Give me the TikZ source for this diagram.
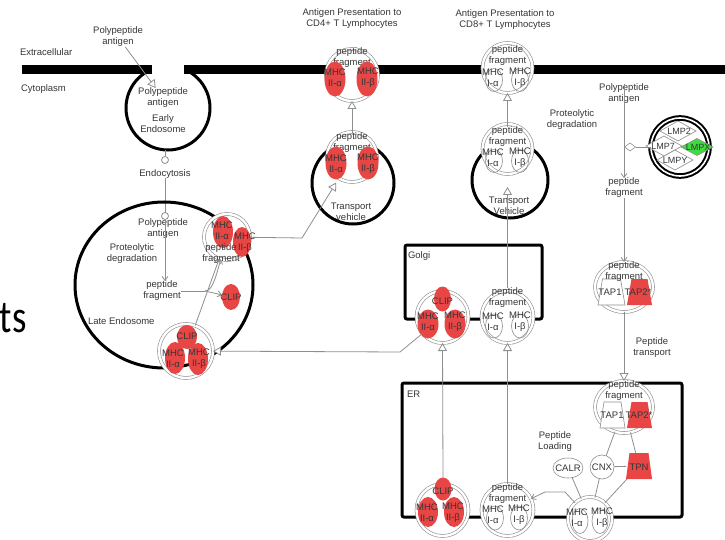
\documentclass[tikz,border=0pt]{standalone}
\usepackage{fontspec}
\setmainfont{Liberation Sans}
\newfontfamily\slidefont{Carlito}
\usetikzlibrary{shapes.geometric,arrows.meta}
\definecolor{mhcred}{HTML}{E84545}
\definecolor{lmpgreen}{HTML}{3EDC3E}
\definecolor{edgegray}{HTML}{8E8E8E}
\definecolor{txtgray}{HTML}{363636}
\tikzset{
  every node/.style={font=\fontsize{9.5}{11}\selectfont, text=txtgray, inner sep=0pt, outer sep=0pt, align=center},
  conn/.style={draw=edgegray, line width=0.8pt},
  hollow/.style={-{Triangle[length=8pt,width=9pt,fill=white]}},
  barb/.style={-{Straight Barb[length=4pt,width=6pt]}},
  membrane ring/.style={draw=black, line width=3pt},
  cplx/.style={circle, draw=edgegray, line width=0.6pt, double=white, double distance=2.4pt, fill=white},
  redel/.style={ellipse, fill=mhcred},
  subel/.style={ellipse, draw=edgegray, line width=0.6pt},
  compbox/.style={rectangle, draw=black, line width=3pt, rounded corners=2pt},
  tapwhite/.style={draw=edgegray, line width=0.6pt, fill=white},
  tapred/.style={fill=mhcred},
  lmpdia/.style={diamond, draw=edgegray, line width=0.6pt, fill=white, minimum width=36pt, minimum height=20pt},
  lmpfont/.style={font=\fontsize{9}{10}\selectfont},
  endpoint/.style={circle, draw=edgegray, line width=0.8pt, fill=white, minimum size=7pt},
  smallbox/.style={ellipse, draw=edgegray, line width=0.6pt, fill=white}
}
% trapezoid: style, centre x, centre y, half bottom width, half top width, half height
\newcommand{\drawtrap}[6]{%
  \path[#1] ({#2-#4},{#3+#6}) -- ({#2+#4},{#3+#6}) -- ({#2+#5},{#3-#6}) -- ({#2-#5},{#3-#6}) -- cycle;}
\begin{document}
\begin{tikzpicture}[x=1pt,y=-1pt]
\useasboundingbox (0,0) rectangle (725,540);
\fill[white] (0,0) rectangle (725,540);

% fragment of slide text on the left
\node[font=\slidefont\fontsize{46}{46}\selectfont, text=black, anchor=base west] (slidetxt) at (0,332) {\scalebox{0.8}[1]{ts}};

% compartment labels
\node[anchor=west] (extra) at (20,52) {Extracellular};
\node[anchor=west] (cyto) at (21,89) {Cytoplasm};

% ---------------- early endosome and plasma membrane ----------------
\node[circle, membrane ring, minimum size=84pt] (early) at (168,108) {};
\fill[white] (152,55) rectangle (184,74.5);
\fill[black] (22,65) rectangle (152,74);
\fill[black] (184,65) rectangle (725,74);

\node (ppaout) at (118,37) {Polypeptide\\antigen};
\node (ppain) at (163,98) {Polypeptide\\antigen};
\node (earlylbl) at (163,124) {Early\\Endosome};
\draw[conn, hollow] (ppaout) -- (ppain);

\node (endolbl) at (165,174) {Endocytosis};
\node[endpoint] (dotA) at (165,160) {};
\node[endpoint] (dotB) at (165,216) {};
\draw[conn] (early.south -| dotA) -- (dotA);
\draw[conn] (endolbl) -- (dotB);

% ---------------- late endosome ----------------
\node[ellipse, membrane ring, minimum width=178pt, minimum height=166pt] (late) at (164,285) {};
\node (lppa) at (163,229) {Polypeptide\\antigen};
\node (lprot) at (132,254) {Proteolytic\\degradation};
\node (lpf) at (162,291) {peptide\\fragment};
\node[anchor=west] (latelbl) at (88,321) {Late Endosome};

% MHC II with peptide (upper right of late endosome)
\node[cplx, minimum size=46pt] (ltop) at (227,237) {};
\node[redel, minimum width=20pt, minimum height=32pt] (ltopa) at (223,232) {};
\node[redel, minimum width=18pt, minimum height=30pt] (ltopb) at (242,242) {};
\node (ltopat) at (222,231) {MHC\\II-α};
\node (ltopbt) at (245,243) {MHC\\II-β};
\node (ltoppf) at (221,254) {peptide\\fragment};

% free CLIP
\node[redel, minimum width=18pt, minimum height=26pt] (lclip) at (231,297) {};
\node (lclipt) at (231,297) {CLIP};

% MHC II with CLIP on the late endosome membrane
\node[cplx, minimum size=54pt] (lbot) at (186,351) {};
\draw[line width=3pt] (180,366.5) -- (194,363.5);
\node[redel, minimum width=20pt, minimum height=24pt] (lbotc) at (187,337) {};
\node[redel, minimum width=20pt, minimum height=32pt] (lbota) at (175,358) {};
\node[redel, minimum width=20pt, minimum height=32pt] (lbotb) at (198,359) {};
\node (lbotct) at (187,336) {CLIP};
\node (lbotat) at (173,359) {MHC\\II-α};
\node (lbotbt) at (199,359) {MHC\\II-β};

\draw[conn, barb] (dotB) -- (lpf.north -| dotB);
\coordinate (ljoin) at (205,291);
\draw[conn] (lpf.east) -- (ljoin);
\draw[conn, barb] (ljoin) .. controls (212,291) and (215,280) .. (ltop);
\draw[conn, barb] (ljoin) -- (lclip);
\draw[conn, barb] (lbot) -- (ltop);

% ---------------- CD4 branch ----------------
\node (cd4title) at (352,19) {Antigen Presentation to\\CD4+ T Lymphocytes};
\node[circle, membrane ring, minimum size=82pt] (cd4ring) at (353,183) {};
\node (cd4tv) at (351,212) {Transport\\vehicle};

\node[cplx, minimum size=52pt] (cd4s) at (352,75) {};
\node (cd4spf) at (352,57.5) {peptide\\fragment};
\node[redel, minimum width=21pt, minimum height=35pt] (cd4sa) at (335,79) {};
\node[redel, minimum width=21pt, minimum height=35pt] (cd4sb) at (367,79) {};
\node (cd4sat) at (335,78) {MHC\\II-α};
\node (cd4sbt) at (368,78) {MHC\\II-β};

\node[cplx, minimum size=50pt] (cd4tc) at (352,157) {};
\node (cd4tcpf) at (352,142.5) {peptide\\fragment};
\node[redel, minimum width=21pt, minimum height=33pt] (cd4tca) at (336,163) {};
\node[redel, minimum width=21pt, minimum height=33pt] (cd4tcb) at (368,163) {};
\node (cd4tcat) at (336,164) {MHC\\II-α};
\node (cd4tcbt) at (368,164) {MHC\\II-β};

\draw[conn, hollow] (cd4tcpf.north) -- (cd4s.south);
\coordinate (lbend) at (302,238);
\draw[conn, hollow, shorten >=5pt] (ltop) -- (lbend) -- (cd4tc);

% ---------------- CD8 branch ----------------
\node (cd8title) at (505,20) {Antigen Presentation to\\CD8+ T Lymphocytes};
\node[circle, membrane ring, minimum size=76pt] (cd8ring) at (510,180) {};
\node (cd8tv) at (509,206) {Transport\\Vehicle};

\node[cplx, minimum size=50pt] (cd8s) at (507.5,68) {};
\node[subel, minimum width=17pt, minimum height=23pt] (cd8sa) at (494,80) {};
\node[subel, minimum width=17pt, minimum height=23pt] (cd8sb) at (520,80) {};
\node (cd8spf) at (507.5,55.5) {peptide\\fragment};
\node (cd8sat) at (493,78) {MHC\\I-α};
\node (cd8sbt) at (520,78) {MHC\\I-β};

\node[cplx, minimum size=50pt] (cd8tc) at (507.5,149) {};
\node[subel, minimum width=17pt, minimum height=23pt] (cd8tca) at (494,161) {};
\node[subel, minimum width=17pt, minimum height=23pt] (cd8tcb) at (520,161) {};
\node (cd8tcpf) at (507.5,136.5) {peptide\\fragment};
\node (cd8tcat) at (493,158) {MHC\\I-α};
\node (cd8tcbt) at (520,158) {MHC\\I-β};

\draw[conn, hollow] (cd8tcpf.north) -- (cd8s.south);

% ---------------- Golgi ----------------
\node[compbox, minimum width=137pt, minimum height=74pt] (golgi) at (473.5,282) {};
\node[anchor=west] (golgilbl) at (408,256) {Golgi};

\node[cplx, minimum size=52pt] (gc2) at (442.5,317) {};
\node[redel, minimum width=17pt, minimum height=25pt] (gc2c) at (442.5,299) {};
\node[redel, minimum width=21pt, minimum height=29pt] (gc2a) at (428,324) {};
\node[redel, minimum width=21pt, minimum height=29pt] (gc2b) at (455,324) {};
\node (gc2ct) at (442.5,301) {CLIP};
\node (gc2at) at (428,321.5) {MHC\\II-α};
\node (gc2bt) at (455,321.5) {MHC\\II-β};

\node[cplx, minimum size=52pt] (gc1) at (507.5,317) {};
\node[subel, minimum width=17pt, minimum height=24pt] (gc1a) at (494,326) {};
\node[subel, minimum width=17pt, minimum height=24pt] (gc1b) at (520,326) {};
\node (gc1pf) at (507.5,298) {peptide\\fragment};
\node (gc1at) at (493,321.5) {MHC\\I-α};
\node (gc1bt) at (520,321.5) {MHC\\I-β};

\draw[conn, hollow, shorten >=13pt] (gc1pf.north) -- (cd8tc.south);
\coordinate (gbend) at (400,352);
\draw[conn, hollow] (gc2) -- (gbend) -- (lbot);

% ---------------- ER ----------------
\node[compbox, minimum width=280pt, minimum height=134pt] (er) at (542,450) {};
\node[anchor=west] (erlbl) at (407,394) {ER};

\node[cplx, minimum size=52pt] (ec2) at (442.5,510) {};
\node[redel, minimum width=17pt, minimum height=23pt] (ec2c) at (443,489) {};
\node[redel, minimum width=20pt, minimum height=30pt] (ec2a) at (428,512) {};
\node[redel, minimum width=20pt, minimum height=30pt] (ec2b) at (454,512) {};
\node (ec2ct) at (443,491) {CLIP};
\node (ec2at) at (427,512.5) {MHC\\II-α};
\node (ec2bt) at (453,512.5) {MHC\\II-β};

\node[cplx, minimum size=52pt] (ec1) at (507.5,510) {};
\node[subel, minimum width=17pt, minimum height=24pt] (ec1a) at (495,518) {};
\node[subel, minimum width=17pt, minimum height=24pt] (ec1b) at (519,518) {};
\node (ec1pf) at (507.5,494) {peptide\\fragment};
\node (ec1at) at (493,515) {MHC\\I-α};
\node (ec1bt) at (519,515) {MHC\\I-β};

\draw[conn, hollow] (ec2c.north) -- (gc2.south);
\draw[conn, hollow] (ec1pf.north) -- (gc1.south);

% peptide loading complex
\node (ploading) at (555,442) {Peptide\\Loading};
\node[smallbox, minimum width=30pt, minimum height=20pt] (calr) at (568,468) {};
\node (calrt) at (568,468) {CALR};
\node[smallbox, circle, minimum size=24pt] (cnx) at (602,467) {};
\node (cnxt) at (602,467) {CNX};
\node[minimum width=26pt, minimum height=26pt] (tpn) at (639,466) {};
\drawtrap{tapred}{639}{466}{13}{9.5}{13}
\node (tpnt) at (639,467) {TPN};

\node[cplx, minimum size=44pt] (dimer) at (590,519) {};
\node[subel, minimum width=16pt, minimum height=25pt] (dimera) at (580,521) {};
\node[subel, minimum width=16pt, minimum height=25pt] (dimerb) at (600,521) {};
\node (dimerat) at (577,518) {MHC\\I-α};
\node (dimerbt) at (602,518) {MHC\\I-β};

% TAP in the ER membrane
\node[cplx, ellipse, minimum width=58pt, minimum height=52pt] (tapd) at (624,407) {};
\drawtrap{tapwhite}{612.5}{415}{12.5}{8.5}{13}
\drawtrap{tapred}{639.5}{415}{12.5}{8}{13}
\node (tapdpf) at (624,391) {peptide\\fragment};
\node (tapd1t) at (612,415) {TAP1};
\node (tapd2t) at (639,415) {TAP2*};

\draw[conn] (calr) -- (dimer);
\draw[conn] (cnx) -- (dimer);
\draw[conn] (tpn) -- (dimer);
\draw[conn] (cnx) -- (tpn);
\draw[conn] (cnx) -- (tapd);
\draw[conn] (tpn) -- (tapd);
\coordinate (dbendA) at (565,492);
\coordinate (dbendB) at (545,492);
\draw[conn, barb] (dimer) -- (dbendA) -- (dbendB) -- (ec1);

% ---------------- proteasome / TAP transport ----------------
\node (rppa) at (624,94) {Polypeptide\\antigen};
\node (rprot) at (572,120) {Proteolytic\\degradation};
\node (rpf) at (624,188) {peptide\\fragment};

\node[circle, draw=black, line width=2pt, double=white, double distance=1.6pt, fill=white, minimum size=58pt] (lmp) at (680,147) {};
\node[lmpdia] (lmp7) at (664,146) {};
\node[lmpdia] (lmp2) at (678,131) {};
\node[lmpdia] (lmpy) at (675,160) {};
\node[lmpfont] (lmp7t) at (663,146) {LMP7};
\node[lmpfont] (lmp2t) at (679,131) {LMP2};
\node[lmpfont] (lmpyt) at (675,160) {LMPY};
\node[lmpdia, fill=lmpgreen, minimum width=32pt, minimum height=17pt] (lmpx) at (697,147) {};
\node[lmpfont] (lmpxt) at (698,147) {LMPX};
\node[diamond, draw=edgegray, line width=0.6pt, fill=white, minimum width=11pt, minimum height=8pt] (cat) at (630,147) {};
\draw[conn] (lmp) -- (cat);

\node[cplx, ellipse, minimum width=58pt, minimum height=50pt] (tapu) at (624,287) {};
\drawtrap{tapwhite}{611.5}{292}{13.5}{9}{13}
\drawtrap{tapred}{639.5}{292}{12.5}{8}{13}
\node (tapupf) at (624,271.5) {peptide\\fragment};
\node (tapu1t) at (610,292) {TAP1};
\node (tapu2t) at (638,292) {TAP2*};

\draw[conn, barb] (rppa.north) -- (rpf.north);
\draw[conn, barb] (rpf) -- (tapu);
\draw[conn, hollow] (tapu) -- (tapd);
\node (ptrans) at (652,348) {Peptide\\transport};
\end{tikzpicture}
\end{document}
